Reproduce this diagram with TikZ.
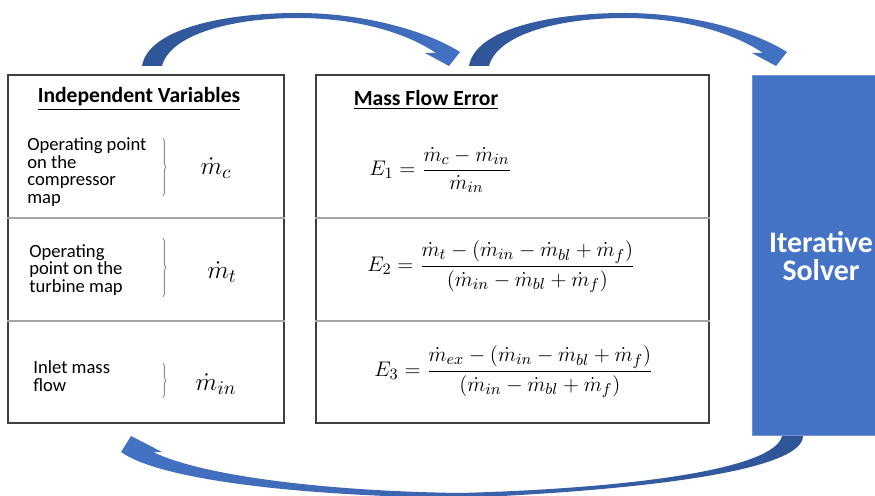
\documentclass[tikz,border=0pt]{standalone}
\usepackage{amsmath}
\usepackage{fontspec}
\setmainfont{Carlito}
\usepackage{xcolor}
\usepackage{tikz}
\usetikzlibrary{positioning, calc, fit, decorations.pathreplacing}

\definecolor{solverblue}{HTML}{4472C4}
\definecolor{arcdark}{HTML}{2F5597}
\definecolor{gridgray}{HTML}{A6A6A6}

\tikzset{
  % curved block arrow over the boxes (origin = outer edge of the tail)
  toparc/.pic={
    \path[left color=arcdark, right color=solverblue]
      (0,0) .. controls (6,-36) and (78,-53) .. (156,-53)
      .. controls (222,-53) and (285,-35) .. (318,-14)
      -- (307,0) -- (283,-13) -- (294,-13)
      .. controls (263,-34) and (213,-48) .. (156,-48)
      .. controls (88,-48) and (28,-31) .. (20,0) -- cycle;
  },
  % return arrow under the boxes (origin = inner edge of the tail)
  backarc/.pic={
    \path[left color=solverblue, right color=arcdark]
      (0,0) -- (21,0) .. controls (21,34) and (-132,54) .. (-322,62)
      .. controls (-482,60) and (-622,44) .. (-661,16)
      -- (-651,0) -- (-620,16) -- (-629,16)
      .. controls (-582,39) and (-462,55) .. (-322,57)
      .. controls (-142,52) and (-7,32) .. (0,0) -- cycle;
  },
}

\begin{document}
\begin{tikzpicture}[
  x=0.02cm, y=-0.02cm,
  panel/.style={draw=black!75, line width=0.8pt, inner sep=0pt},
  divider/.style={draw=gridgray, line width=0.9pt},
  heading/.style={inner sep=0pt, font=\fontsize{12.3}{14}\selectfont\bfseries},
  vartext/.style={inner sep=0pt, anchor=west, align=left, font=\fontsize{10.6}{10.1}\selectfont},
  varsym/.style={inner sep=0pt, font=\fontsize{15}{17}\selectfont},
  eqn/.style={inner sep=0pt, anchor=west, font=\fontsize{13}{15}\selectfont},
  brk/.style={draw=black!45, line width=0.5pt, decorate, decoration={brace, amplitude=1.6pt}},
  solverbox/.style={fill=solverblue, draw=solverblue!75!white, line width=0.5pt, inner sep=0pt},
  solvertext/.style={inner sep=0pt, text=white, align=center, font=\fontsize{17}{16}\selectfont\bfseries},
]
\path[use as bounding box, fill=white] (0,0) rectangle (875,496);

% === Independent variables ===
\node[panel, fit={(8,75) (284,423)}] (vars) {};
\coordinate (rowA) at (0,218);
\coordinate (rowB) at (0,321);
\draw[divider] (vars.west |- rowA) -- (vars.east |- rowA);
\draw[divider] (vars.west |- rowB) -- (vars.east |- rowB);

\node[heading] (varstitle) at (139,99) {\underline{Independent Variables}};

\node[vartext] (comptext) at (27,172) {Operating point\\on the\\compressor\\map};
\node[vartext] (turbtext) at (29,270) {Operating\\point on the\\turbine map};
\node[vartext] (inlettext) at (33,376) {Inlet mass\\flow};

\draw[brk] (163,138) -- (163,196);
\draw[brk] (163,238) -- (163,297);
\draw[brk] (163,363) -- (163,398);

\node[varsym] (mc) at (216,168) {$\dot{m}_c$};
\node[varsym] (mt) at (222,272) {$\dot{m}_t$};
\node[varsym] (min) at (216,384) {$\dot{m}_{in}$};

% === Mass flow error ===
\node[panel, fit={(316,75) (709,423)}] (errors) {};
\draw[divider] (errors.west |- rowA) -- (errors.east |- rowA);
\draw[divider] (errors.west |- rowB) -- (errors.east |- rowB);

\node[heading] (errtitle) at (426,100) {\underline{Mass Flow Error}};

\node[eqn] (eone) at (369,170) {$\displaystyle E_1 = \frac{\dot{m}_c - \dot{m}_{in}}{\dot{m}_{in}}$};
\node[eqn] (etwo) at (367,267) {$\displaystyle E_2 = \frac{\dot{m}_t - (\dot{m}_{in} - \dot{m}_{bl} + \dot{m}_f)}{(\dot{m}_{in} - \dot{m}_{bl} + \dot{m}_f)}$};
\node[eqn] (ethree) at (374,372) {$\displaystyle E_3 = \frac{\dot{m}_{ex} - (\dot{m}_{in} - \dot{m}_{bl} + \dot{m}_f)}{(\dot{m}_{in} - \dot{m}_{bl} + \dot{m}_f)}$};

% === Solver ===
\node[solverbox, fit={(752,75) (890,435)}] (solver) {};
\node[solvertext] (solvername) at (821,256) {Iterative\\Solver};

% === Loop arrows ===
\coordinate (varsout) at (142,66);
\coordinate (errsout) at (469,66);
\coordinate (solverout) at (782,436);
\pic at (varsout) {toparc};
\pic at (errsout) {toparc};
\pic at (solverout) {backarc};

\end{tikzpicture}
\end{document}
